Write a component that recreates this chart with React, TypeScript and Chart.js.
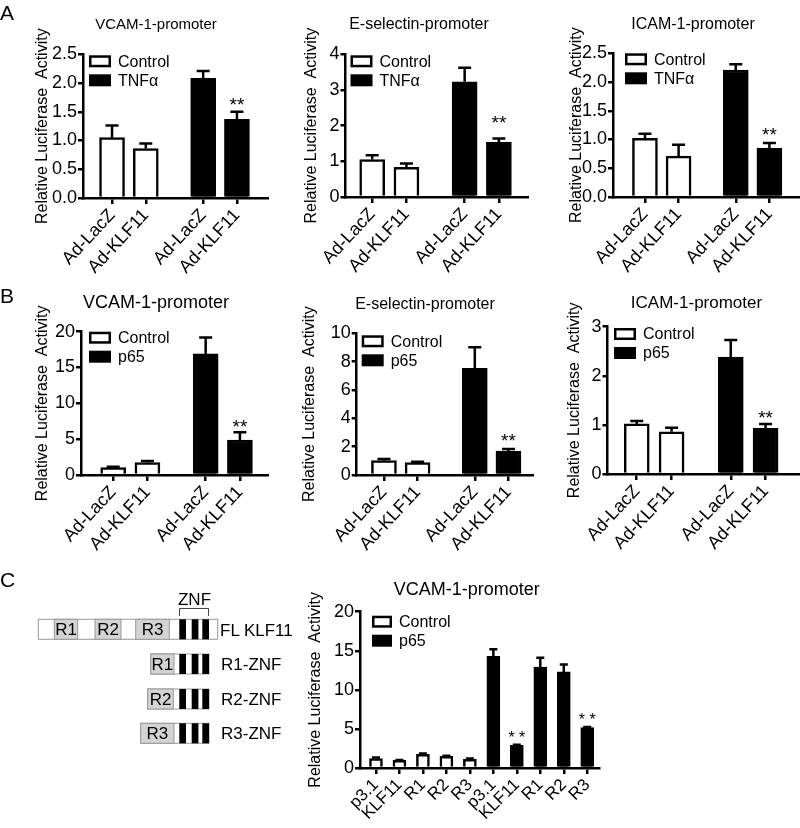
import React, { useEffect, useRef } from 'react';
import { Chart, registerables } from 'chart.js';

Chart.register(...registerables);

const FONT = '"Liberation Sans", Arial, Helvetica, sans-serif';
const Y_TITLE = 'Relative Luciferase  Activity';

// ---------- data ----------
const adLabels = ['Ad-LacZ', 'Ad-KLF11', 'Ad-LacZ', 'Ad-KLF11'];
const adGroups = [0, 0, 1, 1];
const adStars = [false, false, false, true];
const tnfSeries = ['Control', 'TNFα'];
const p65Series = ['Control', 'p65'];

const vcamTnfValues = [1.05, 0.86, 2.08, 1.37];
const vcamTnfErrors = [0.21, 0.09, 0.13, 0.13];
const vcamTnfTicks = [0, 0.5, 1.0, 1.5, 2.0, 2.5];

const eselTnfValues = [1.05, 0.83, 3.23, 1.53];
const eselTnfErrors = [0.12, 0.11, 0.39, 0.11];
const eselTnfTicks = [0, 1, 2, 3, 4];

const icamTnfValues = [1.02, 0.71, 2.21, 0.85];
const icamTnfErrors = [0.08, 0.2, 0.1, 0.09];
const icamTnfTicks = [0, 0.5, 1.0, 1.5, 2.0, 2.5];

const vcamP65Values = [1.02, 1.72, 16.9, 4.88];
const vcamP65Errors = [0.14, 0.23, 2.3, 1.08];
const vcamP65Ticks = [0, 5, 10, 15, 20];

const eselP65Values = [1.01, 0.87, 7.53, 1.69];
const eselP65Errors = [0.12, 0.07, 1.48, 0.14];
const eselP65Ticks = [0, 2, 4, 6, 8, 10];

const icamP65Values = [1.02, 0.86, 2.38, 0.93];
const icamP65Errors = [0.06, 0.08, 0.35, 0.09];
const icamP65Ticks = [0, 1, 2, 3];

const domainLabels = ['p3.1', 'KLF11', 'R1', 'R2', 'R3', 'p3.1', 'KLF11', 'R1', 'R2', 'R3'];
const domainGroups = [0, 0, 0, 0, 0, 1, 1, 1, 1, 1];
const domainValues = [1.2, 0.98, 1.75, 1.5, 1.1, 14.3, 2.9, 12.9, 12.3, 5.17];
const domainErrors = [0.13, 0.05, 0.1, 0.07, 0.1, 0.9, 0.08, 1.2, 0.95, 0.07];
const domainStars = [false, false, false, false, false, false, true, false, false, true];
const domainTicks = [0, 5, 10, 15, 20];

// ---------- layout ----------
type Box = {
  L: number; T: number; R: number; B: number; ytx: number;
  titleX: number; titleY: number; legX: number; legY: number;
  xMin: number; xMax: number; starGap: number;
  barW: number; cap: number; xh: number; padR: number; boxW: number; starText: string; starSize: number;
  xFont: number; xRot: number;
};
type Spec = {
  title: string; titleSize: number; series: string[]; labels: string[]; groups: number[];
  values: number[]; errors: number[]; stars: boolean[]; yTicks: number[]; yDec: number; gap: number; box: Box;
};

const abBase = { barW: 25, cap: 13, xh: 82, padR: 1, boxW: 22, starText: '**', starSize: 19, xFont: 18, xRot: 47 };

const specs: Spec[] = [
  {
    title: 'VCAM-1-promoter', titleSize: 15, series: tnfSeries, labels: adLabels, groups: adGroups,
    values: vcamTnfValues, errors: vcamTnfErrors, stars: adStars, yTicks: vcamTnfTicks, yDec: 1, gap: 0.7,
    box: { ...abBase, L: 83, T: 54.3, R: 268, B: 198.3, ytx: 43, titleX: 156, titleY: 25, legX: 6, legY: 1, xMin: -0.86, xMax: 4.62, starGap: 12 },
  },
  {
    title: 'E-selectin-promoter', titleSize: 16, series: tnfSeries, labels: adLabels, groups: adGroups,
    values: eselTnfValues, errors: eselTnfErrors, stars: adStars, yTicks: eselTnfTicks, yDec: 0, gap: 0.7,
    box: { ...abBase, L: 345.5, T: 54.3, R: 528, B: 196.7, ytx: 311.7, titleX: 419, titleY: 25, legX: 5, legY: 1, xMin: -0.78, xMax: 4.55, starGap: 21 },
  },
  {
    title: 'ICAM-1-promoter', titleSize: 16, series: tnfSeries, labels: adLabels, groups: adGroups,
    values: icamTnfValues, errors: icamTnfErrors, stars: adStars, yTicks: icamTnfTicks, yDec: 1, gap: 0.7,
    box: { ...abBase, L: 613, T: 53.3, R: 799, B: 196.7, ytx: 576.7, titleX: 693, titleY: 25, legX: 12, legY: 0, xMin: -0.95, xMax: 4.58, starGap: 12.7 },
  },
  {
    title: 'VCAM-1-promoter', titleSize: 18, series: p65Series, labels: adLabels, groups: adGroups,
    values: vcamP65Values, errors: vcamP65Errors, stars: adStars, yTicks: vcamP65Ticks, yDec: 0, gap: 0.7,
    box: { ...abBase, L: 81, T: 331.7, R: 268, B: 475, ytx: 43, titleX: 156, titleY: 303, legX: 8, legY: 0, xMin: -0.94, xMax: 4.52, starGap: 10.6 },
  },
  {
    title: 'E-selectin-promoter', titleSize: 16, series: p65Series, labels: adLabels, groups: adGroups,
    values: eselP65Values, errors: eselP65Errors, stars: adStars, yTicks: eselP65Ticks, yDec: 0, gap: 0.7,
    box: { ...abBase, L: 356.7, T: 333.3, R: 533, B: 475, ytx: 310, titleX: 425, titleY: 305, legX: 5, legY: 2, xMin: -0.81, xMax: 4.43, starGap: 13 },
  },
  {
    title: 'ICAM-1-promoter', titleSize: 17, series: p65Series, labels: adLabels, groups: adGroups,
    values: icamP65Values, errors: icamP65Errors, stars: adStars, yTicks: icamP65Ticks, yDec: 0, gap: 0.7,
    box: { ...abBase, L: 607.5, T: 326.7, R: 799, B: 474, ytx: 575, titleX: 696.5, titleY: 303, legX: 6.5, legY: 1.3, xMin: -0.84, xMax: 4.66, starGap: 11 },
  },
  {
    title: 'VCAM-1-promoter', titleSize: 18, series: p65Series, labels: domainLabels, groups: domainGroups,
    values: domainValues, errors: domainErrors, stars: domainStars, yTicks: domainTicks, yDec: 0, gap: 0,
    box: { L: 360, T: 611.7, R: 599, B: 767.7, ytx: 316, titleX: 466.7, titleY: 590, legX: 12, legY: 4, xMin: -0.68, xMax: 9.5, starGap: 11,
      barW: 13, cap: 8, xh: 58, padR: 12, boxW: 20, starText: '* *', starSize: 16, xFont: 17, xRot: 45 },
  },
];

function BarPanel({ s }: { s: Spec }) {
  const ref = useRef<HTMLCanvasElement>(null);
  const b = s.box;
  const cx = Math.round(b.ytx - 13.6);
  const cy = Math.round(b.titleY - 16);
  const W = Math.round(b.R + b.padR - cx);
  const H = Math.round(b.B + b.xh - cy);

  useEffect(() => {
    if (!ref.current) return;
    const positions = s.groups.map((g, i) => i + g * s.gap);
    const datasets = [0, 1].map((grp) => {
      const idx = s.values.map((_, i) => i).filter((i) => s.groups[i] === grp);
      return {
        label: s.series[grp],
        data: idx.map((i) => ({ x: positions[i], y: s.values[i] })),
        errors: idx.map((i) => s.errors[i]),
        stars: idx.map((i) => s.stars[i]),
        backgroundColor: grp === 0 ? '#ffffff' : '#000000',
        borderColor: '#000000',
        borderWidth: 2.5,
        barThickness: b.barW,
        grouped: false,
      } as any;
    });

    const deco = {
      id: 'deco',
      afterDatasetsDraw(chart: any) {
        const ctx = chart.ctx;
        const y = chart.scales.y;
        ctx.save();
        ctx.strokeStyle = '#000';
        ctx.fillStyle = '#000';
        ctx.lineWidth = 2.5;
        chart.data.datasets.forEach((d: any, di: number) => {
          const meta = chart.getDatasetMeta(di);
          meta.data.forEach((el: any, j: number) => {
            const v = d.data[j].y;
            const top = y.getPixelForValue(v + d.errors[j]);
            if (d.errors[j] > 0) {
              ctx.beginPath();
              ctx.moveTo(el.x, el.y);
              ctx.lineTo(el.x, top);
              ctx.moveTo(el.x - b.cap / 2, top);
              ctx.lineTo(el.x + b.cap / 2, top);
              ctx.stroke();
            }
            if (d.stars[j]) {
              ctx.font = `${b.starSize}px ${FONT}`;
              ctx.textAlign = 'center';
              ctx.textBaseline = 'alphabetic';
              ctx.fillText(b.starText, el.x, top - b.starGap + 0.58 * b.starSize);
            }
          });
        });
        ctx.restore();
      },
      afterDraw(chart: any) {
        const ctx = chart.ctx;
        ctx.save();
        ctx.fillStyle = '#000';
        ctx.font = `${s.titleSize}px ${FONT}`;
        ctx.textAlign = 'center';
        ctx.textBaseline = 'middle';
        ctx.fillText(s.title, b.titleX - cx, b.titleY - cy);
        const bx = b.L + b.legX - cx;
        const by = b.T + b.legY - cy;
        const bh = 12;
        ctx.font = `16px ${FONT}`;
        ctx.textAlign = 'left';
        s.series.forEach((name, r) => {
          const yy = by + r * 19;
          if (r === 0) {
            ctx.fillStyle = '#fff';
            ctx.fillRect(bx, yy, b.boxW, bh);
            ctx.strokeStyle = '#000';
            ctx.lineWidth = 2.5;
            ctx.strokeRect(bx + 1.25, yy + 1.25, b.boxW - 2.5, bh - 2.5);
          } else {
            ctx.fillStyle = '#000';
            ctx.fillRect(bx, yy, b.boxW, bh);
          }
          ctx.fillStyle = '#000';
          ctx.fillText(name, bx + b.boxW + 7, yy + bh / 2 + 1);
        });
        ctx.restore();
      },
    };

    const gridOpts = { display: true, offset: false, drawOnChartArea: false, drawTicks: true, lineWidth: 2.5, color: '#000' };
    const chart = new Chart(ref.current, {
      type: 'bar',
      data: { datasets },
      options: {
        responsive: false,
        animation: false,
        devicePixelRatio: 1,
        events: [],
        layout: { padding: { top: b.T - cy, right: b.padR, left: 0, bottom: 0 } },
        plugins: { legend: { display: false }, title: { display: false }, tooltip: { enabled: false } },
        scales: {
          x: {
            type: 'linear',
            min: b.xMin,
            max: b.xMax,
            offset: false,
            bounds: 'data',
            afterBuildTicks: (sc: any) => { sc.ticks = positions.map((v) => ({ value: v })); },
            afterFit: (sc: any) => { sc.height = b.xh; },
            ticks: {
              autoSkip: false, minRotation: b.xRot, maxRotation: b.xRot, padding: 1, color: '#000',
              font: { family: FONT, size: b.xFont },
              callback: (_v: any, i: number) => s.labels[i],
            },
            grid: { ...gridOpts, tickLength: 6 },
            border: { display: true, color: '#000', width: 2.5 },
          },
          y: {
            type: 'linear',
            min: s.yTicks[0],
            max: s.yTicks[s.yTicks.length - 1],
            afterBuildTicks: (sc: any) => { sc.ticks = s.yTicks.map((v) => ({ value: v })); },
            afterFit: (sc: any) => { sc.width = b.L - cx; },
            ticks: {
              padding: 1, color: '#000', font: { family: FONT, size: 18 },
              callback: (v: any) => Number(v).toFixed(s.yDec),
            },
            grid: { ...gridOpts, tickLength: 5 },
            border: { display: true, color: '#000', width: 2.5 },
            title: {
              display: true, text: Y_TITLE, color: '#000',
              font: { family: FONT, size: 16 }, padding: { top: 4, bottom: 4 },
            },
          },
        },
      } as any,
      plugins: [deco],
    });
    return () => chart.destroy();
  }, []);

  return (
    <canvas
      ref={ref}
      width={W}
      height={H}
      style={{ position: 'absolute', left: cx, top: cy, width: W, height: H }}
    />
  );
}

// ---------- domain schematic (panel C, left) ----------
const stripeXs = [179.3, 191.7, 202.3];
const constructs = [
  { name: 'R1-ZNF', y: 654, left: 150.7, grayEnd: 174, gray: 'R1', labelY: 669.5 },
  { name: 'R2-ZNF', y: 689, left: 147.7, grayEnd: 173.3, gray: 'R2', labelY: 704.5 },
  { name: 'R3-ZNF', y: 723.3, left: 140.7, grayEnd: 174, gray: 'R3', labelY: 739 },
];
const flRegions = [
  { name: 'R1', x0: 54.3, x1: 77.7 },
  { name: 'R2', x0: 95, x1: 121 },
  { name: 'R3', x0: 135.7, x1: 169.3 },
];

function Schematic() {
  const rowH = 20;
  const flY = 619.3;
  return (
    <svg width={800} height={828} style={{ position: 'absolute', left: 0, top: 0, pointerEvents: 'none' }} fontFamily={FONT}>
      <text x={0} y={20} fontSize={21} fill="#000">A</text>
      <text x={0} y={303} fontSize={21} fill="#000">B</text>
      <text x={0} y={587} fontSize={21} fill="#000">C</text>

      <text x={194.5} y={605} fontSize={17} textAnchor="middle" fill="#000">ZNF</text>
      <path d="M179.5 616 V608.5 H208.5 V616" stroke="#444" strokeWidth={1} fill="none" />

      <rect x={38.3} y={flY} width={179.4} height={rowH} fill="#fff" stroke="#999" strokeWidth={1} />
      {flRegions.map((r) => (
        <g key={r.name}>
          <rect x={r.x0} y={flY} width={r.x1 - r.x0} height={rowH} fill="#d3d3d3" stroke="#999" strokeWidth={1} />
          <text x={(r.x0 + r.x1) / 2} y={flY + 16} fontSize={17} textAnchor="middle" fill="#000">{r.name}</text>
        </g>
      ))}
      {stripeXs.map((x) => (
        <rect key={'fl' + x} x={x} y={flY} width={6.7} height={rowH} fill="#000" />
      ))}
      <text x={220} y={636} fontSize={17} fill="#000">FL KLF11</text>

      {constructs.map((c) => (
        <g key={c.name}>
          <rect x={c.left} y={c.y} width={209 - c.left} height={rowH} fill="#fff" stroke="#999" strokeWidth={1} />
          <rect x={c.left} y={c.y} width={c.grayEnd - c.left} height={rowH} fill="#d3d3d3" stroke="#999" strokeWidth={1} />
          <text x={(c.left + c.grayEnd) / 2} y={c.y + 16} fontSize={17} textAnchor="middle" fill="#000">{c.gray}</text>
          {stripeXs.map((x) => (
            <rect key={c.name + x} x={x} y={c.y} width={6.7} height={rowH} fill="#000" />
          ))}
          <text x={221} y={c.labelY} fontSize={17} fill="#000">{c.name}</text>
        </g>
      ))}
    </svg>
  );
}

export default function App() {
  return (
    <div style={{ position: 'absolute', left: 0, top: 0, width: 800, height: 828, overflow: 'hidden', background: '#fff' }}>
      {specs.map((s, i) => (
        <BarPanel key={i} s={s} />
      ))}
      <Schematic />
    </div>
  );
}
